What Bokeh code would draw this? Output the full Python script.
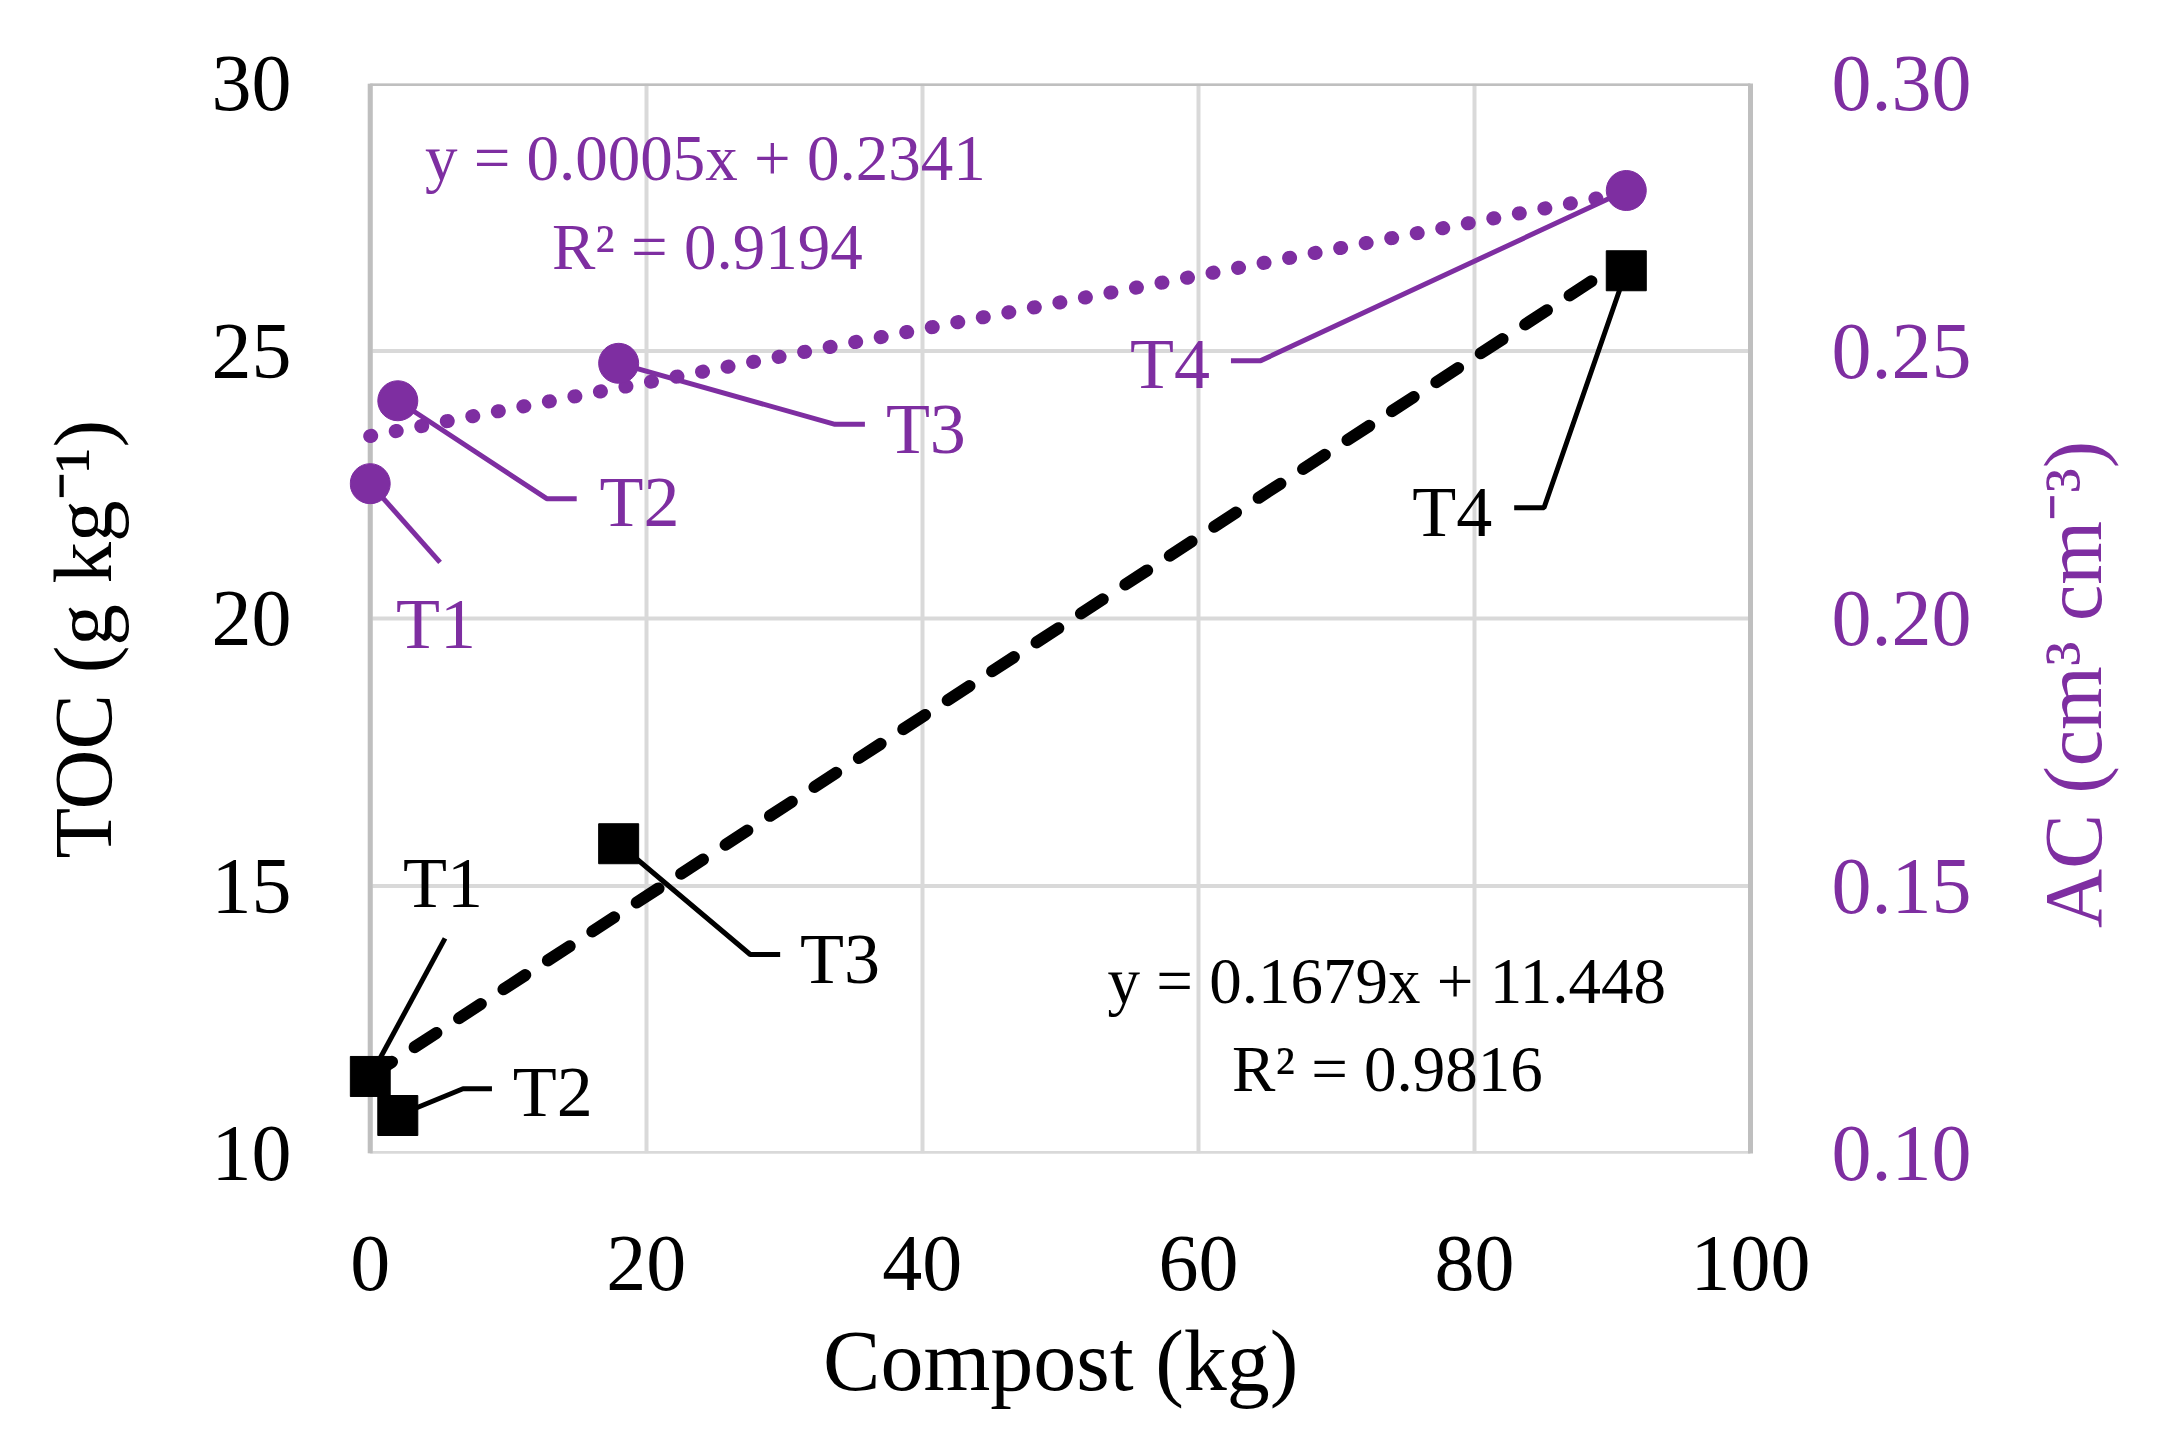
import math
from bokeh.plotting import figure
from bokeh.models import Range1d, LinearAxis, Label, FixedTicker, PrintfTickFormatter
from bokeh.embed import file_html
from bokeh.resources import INLINE

# ---------------- data ----------------
treatments = ["T1", "T2", "T3", "T4"]
compost_kg = [0, 2, 18, 91]
toc_g_kg = [11.44, 10.71, 15.79, 26.5]
ac_cm3_cm3 = [0.2252, 0.2407, 0.2477, 0.280]

toc_slope, toc_intercept, toc_r2 = 0.1679, 11.448, 0.9816
ac_slope, ac_intercept, ac_r2 = 0.0005, 0.2341, 0.9194

x_ticks = [0, 20, 40, 60, 80, 100]
toc_ticks = [10, 15, 20, 25, 30]
ac_ticks = [0.10, 0.15, 0.20, 0.25, 0.30]

# callout layout (annotation positions, data units): elbow/end points, text anchor, align
toc_callouts = {
    "T1": dict(path=[(5.42, 14.02)], text=(5.27, 14.60), align="center"),
    "T2": dict(path=[(6.72, 11.21), (8.82, 11.21)], text=(10.33, 10.71), align="left"),
    "T3": dict(path=[(27.53, 13.72), (29.70, 13.72)], text=(31.14, 13.18), align="left"),
    "T4": dict(path=[(85.04, 22.07), (82.88, 22.07)], text=(81.29, 21.55), align="right"),
}
ac_callouts = {
    "T1": dict(path=[(5.06, 0.2105)], text=(4.77, 0.1944), align="center"),
    "T2": dict(path=[(12.79, 0.2224), (14.96, 0.2224)], text=(16.62, 0.2172), align="left"),
    "T3": dict(path=[(33.67, 0.2363), (35.84, 0.2363)], text=(37.36, 0.2310), align="left"),
    "T4": dict(path=[(64.52, 0.2482), (62.36, 0.2482)], text=(60.84, 0.2430), align="right"),
}

FONT = "Liberation Serif"
PURPLE = "#7E2EA1"
GRID = "#D9D9D9"
AXIS = "#BFBFBF"
NB = "\u00a0"

x_lo, x_hi = x_ticks[0], x_ticks[-1]
y_lo, y_hi = toc_ticks[0], toc_ticks[-1]
ac_lo, ac_hi = ac_ticks[0], ac_ticks[-1]

FRAME_H = 1070                      # plot-area height in px
LIFT_PX = 24                        # raise text labels to sit on their baselines
toc_lift = LIFT_PX * (y_hi - y_lo) / FRAME_H
ac_lift = LIFT_PX * (ac_hi - ac_lo) / FRAME_H

p = figure(width=2167, height=1423,
           x_range=Range1d(x_lo - 1.5, x_hi), y_range=Range1d(y_lo, y_hi),
           output_backend="svg", toolbar_location=None,
           min_border_left=349, min_border_right=413,
           min_border_top=83, min_border_bottom=270)
p.extra_y_ranges = {"ac": Range1d(ac_lo, ac_hi)}
p.outline_line_color = None
p.background_fill_color = "white"
p.border_fill_color = "white"

# ---------------- axes ----------------
p.xaxis.ticker = FixedTicker(ticks=x_ticks)
p.yaxis.ticker = FixedTicker(ticks=toc_ticks)
for ax in (p.xaxis[0], p.yaxis[0]):
    ax.major_label_text_font = FONT
    ax.major_label_text_font_size = "80px"
    ax.major_label_text_color = "black"
    ax.major_tick_line_color = None
    ax.minor_tick_line_color = None
    ax.axis_line_color = None
    ax.axis_label_text_font = FONT
    ax.axis_label_text_font_style = "normal"
    ax.axis_label_text_color = "black"
p.xaxis.major_label_standoff = 77
p.xaxis.axis_label = NB + "Compost (kg)"
p.xaxis.axis_label_text_font_size = "86px"
p.xaxis.axis_label_standoff = 20
p.yaxis.major_label_standoff = 52
p.yaxis.axis_label = "TOC (g kg⁻¹)" + NB * 2
p.yaxis.axis_label_text_font_size = "83px"
p.yaxis.axis_label_standoff = 80

rax = LinearAxis(y_range_name="ac", ticker=FixedTicker(ticks=ac_ticks),
                 formatter=PrintfTickFormatter(format="%.2f"))
rax.major_label_text_font = FONT
rax.major_label_text_font_size = "80px"
rax.major_label_text_color = PURPLE
rax.major_tick_line_color = None
rax.minor_tick_line_color = None
rax.axis_line_color = AXIS
rax.axis_line_width = 5
rax.major_label_standoff = 75
rax.axis_label_text_font = FONT
rax.axis_label_text_font_size = "82px"
rax.axis_label_text_font_style = "normal"
rax.axis_label_text_color = PURPLE
rax.axis_label_standoff = 99
ac_title = "AC (cm³ cm⁻³)"
try:
    rax.axis_label_orientation = math.pi / 2
    rax.axis_label_align = "start"
    rax.axis_label = NB * 11 + ac_title
except Exception:
    rax.axis_label = ac_title
p.add_layout(rax, "right")

# ---------------- grid and plot-area border ----------------
p.xgrid.ticker = FixedTicker(ticks=x_ticks)
p.xgrid.grid_line_color = GRID
p.xgrid.grid_line_width = 4
p.ygrid.visible = False
p.segment(x0=[x_lo] * len(toc_ticks), x1=[x_hi] * len(toc_ticks), y0=toc_ticks, y1=toc_ticks,
          line_color=GRID, line_width=4)
p.segment(x0=[x_lo], x1=[x_hi], y0=[y_lo], y1=[y_lo], line_color=GRID, line_width=5)
p.segment(x0=[x_lo, x_lo], x1=[x_hi, x_lo], y0=[y_hi, y_lo], y1=[y_hi, y_hi],
          line_color=AXIS, line_width=5)

# ---------------- trend lines ----------------
fit_x = [min(compost_kg), max(compost_kg)]
p.line(fit_x, [toc_slope * x + toc_intercept for x in fit_x],
       line_color="black", line_width=12, line_dash="26 27", line_cap="round")
p.line(fit_x, [ac_slope * x + ac_intercept for x in fit_x], y_range_name="ac",
       line_color=PURPLE, line_width=14, line_dash="1 25", line_cap="round")

# ---------------- callout leader lines ----------------
for i, t in enumerate(treatments):
    c = toc_callouts[t]
    xs = [compost_kg[i]] + [q[0] for q in c["path"]]
    ys = [toc_g_kg[i]] + [q[1] for q in c["path"]]
    p.line(xs, ys, line_color="black", line_width=5)
    c = ac_callouts[t]
    xs = [compost_kg[i]] + [q[0] for q in c["path"]]
    ys = [ac_cm3_cm3[i]] + [q[1] for q in c["path"]]
    p.line(xs, ys, y_range_name="ac", line_color=PURPLE, line_width=5)

# ---------------- markers ----------------
p.scatter(compost_kg, toc_g_kg, marker="square", size=40, color="black")
p.scatter(compost_kg, ac_cm3_cm3, marker="circle", size=40, color=PURPLE, y_range_name="ac")

# ---------------- callout labels ----------------
for t in treatments:
    c = toc_callouts[t]
    p.add_layout(Label(x=c["text"][0], y=c["text"][1] + toc_lift, text=t, text_font=FONT,
                       text_font_size="72px", text_color="black",
                       text_align=c["align"], text_baseline="alphabetic"))
    c = ac_callouts[t]
    p.add_layout(Label(x=c["text"][0], y=c["text"][1] + ac_lift, text=t, text_font=FONT,
                       text_font_size="72px", text_color=PURPLE, y_range_name="ac",
                       text_align=c["align"], text_baseline="alphabetic"))

# ---------------- trend-line equations ----------------
p.add_layout(Label(x=73.65, y=12.77 + toc_lift, text=f"y = {toc_slope}x + {toc_intercept}",
                   text_font=FONT, text_font_size="65px", text_color="black",
                   text_align="center", text_baseline="alphabetic"))
p.add_layout(Label(x=73.7, y=11.14 + toc_lift, text=f"R² = {toc_r2}",
                   text_font=FONT, text_font_size="65px", text_color="black",
                   text_align="center", text_baseline="alphabetic"))
p.add_layout(Label(x=24.28, y=0.2815 + ac_lift, y_range_name="ac",
                   text=f"y = {ac_slope}x + {ac_intercept}",
                   text_font=FONT, text_font_size="65px", text_color=PURPLE,
                   text_align="center", text_baseline="alphabetic"))
p.add_layout(Label(x=24.42, y=0.2650 + ac_lift, y_range_name="ac", text=f"R² = {ac_r2}",
                   text_font=FONT, text_font_size="65px", text_color=PURPLE,
                   text_align="center", text_baseline="alphabetic"))

open("out.html", "w").write(file_html(p, INLINE))
